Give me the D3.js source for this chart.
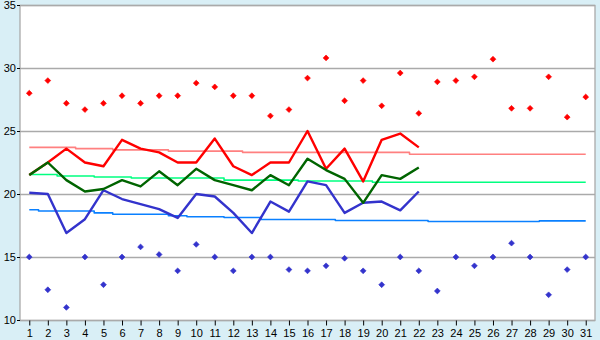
<!DOCTYPE html>
<html>
<head>
<meta charset="utf-8">
<script src="https://cdn.jsdelivr.net/npm/d3@7"></script>
<style>
  html, body { margin: 0; padding: 0; background: #d9eff6; }
  svg { display: block; font-family: "DejaVu Sans", sans-serif; }
  .tick text { font-size: 11px; fill: #000; }
  .tick line { stroke: #000; }
</style>
</head>
<body>
<svg id="grafico" width="600" height="340"></svg>
<script>
// temperaturas del mes: puntos de max/min diarios, lineas del dia y normales

var dias = d3.range(1, 32);
var ticksY = [10, 15, 20, 25, 30, 35];

var maxDia = [28.0, 29.0, 27.2, 26.7, 27.2, 27.8, 27.2, 27.8, 27.8, 28.8, 28.5, 27.8, 27.8, 26.2, 26.7, 29.2,
  30.8, 27.4, 29.0, 27.0, 29.6, 26.4, 28.9, 29.0, 29.3, 30.7, 26.8, 26.8, 29.3, 26.1, 27.7];
var minDia = [15.0, 12.4, 11.0, 15.0, 12.8, 15.0, 15.8, 15.2, 13.9, 16.0, 15.0, 13.9, 15.0, 15.0, 14.0, 13.9,
  14.3, 14.9, 13.9, 12.8, 15.0, 13.9, 12.3, 15.0, 14.3, 15.0, 16.1, 15.0, 12.0, 14.0, 15.0];

// series que solo llegan hasta el dia 22
var lineaRoja = [21.5, 22.5, 23.6, 22.5, 22.2, 24.3, 23.6, 23.3, 22.5, 22.5, 24.4, 22.2, 21.5, 22.5, 22.5, 25.0,
  22.0, 23.6, 21.0, 24.3, 24.8, 23.7];
var lineaVerde = [21.5, 22.5, 21.1, 20.2, 20.4, 21.1, 20.6, 21.8, 20.7, 22.0, 21.1, 20.7, 20.3, 21.5, 20.7, 22.8,
  21.9, 21.2, 19.3, 21.5, 21.2, 22.1];
var lineaAzul = [20.1, 20.0, 16.9, 18.0, 20.3, 19.6, 19.2, 18.8, 18.1, 20.0, 19.8, 18.5, 16.9, 19.4, 18.6, 21.0,
  20.7, 18.5, 19.3, 19.4, 18.7, 20.2];

// normales, casi planas
var normalMax = [23.7, 23.7, 23.7, 23.6, 23.6, 23.5, 23.5, 23.5, 23.4, 23.4, 23.4, 23.4, 23.3, 23.3, 23.3, 23.3,
  23.3, 23.3, 23.3, 23.3, 23.3, 23.15, 23.15, 23.15, 23.15, 23.15, 23.15, 23.15, 23.15, 23.15, 23.15];
var normalMed = [21.55, 21.55, 21.43, 21.43, 21.35, 21.35, 21.27, 21.27, 21.27, 21.27, 21.27, 21.1, 21.1, 21.1,
  21.1, 21.03, 21.03, 21.03, 21.03, 20.93, 20.93, 20.93, 20.93, 20.93, 20.93, 20.93, 20.93, 20.93, 20.93, 20.93, 20.93];
var normalMin = [18.75, 18.65, 18.65, 18.65, 18.5, 18.39, 18.39, 18.39, 18.27, 18.19, 18.19, 18.13, 18.13, 17.98,
  17.98, 17.98, 17.98, 17.9, 17.9, 17.9, 17.9, 17.9, 17.82, 17.82, 17.82, 17.82, 17.82, 17.82, 17.87, 17.87, 17.87];

var margen = { top: 5, right: 5, bottom: 20, left: 20 };
var ancho = 600, alto = 340;

var svg = d3.select("#grafico");

var x = d3.scaleLinear().domain([0.5, 31.5]).range([margen.left, ancho - margen.right]);
var y = d3.scaleLinear().domain([10, 35]).range([alto - margen.bottom, margen.top]);

// fondo blanco del area del grafico
svg.append("rect")
  .attr("x", x(0.5)).attr("y", y(35))
  .attr("width", x(31.5) - x(0.5)).attr("height", y(10) - y(35))
  .attr("fill", "#fff");

// lineas de la grilla
svg.append("g").selectAll("line").data(ticksY).enter().append("line")
  .attr("x1", x(0.5)).attr("x2", x(31.5))
  .attr("y1", function (d) { return y(d) + 0.5; })
  .attr("y2", function (d) { return y(d) + 0.5; })
  .attr("stroke", "#aaa").attr("stroke-width", 1.3);

svg.append("rect")
  .attr("x", x(0.5)).attr("y", y(35) + 0.5)
  .attr("width", x(31.5) - x(0.5)).attr("height", y(10) - y(35))
  .attr("fill", "none").attr("stroke", "#aaa").attr("stroke-width", 1.3);

// ejes
var ejeX = svg.append("g")
  .attr("transform", "translate(0," + (y(10) + 0.5) + ")")
  .call(d3.axisBottom(x).tickValues(dias).tickSize(5).tickPadding(4).tickFormat(d3.format("d")));
ejeX.select(".domain").remove();

var ejeY = svg.append("g")
  .attr("transform", "translate(" + x(0.5) + ",0)")
  .call(d3.axisLeft(y).tickValues(ticksY).tickSize(3).tickPadding(1));
ejeY.select(".domain").remove();
ejeY.selectAll(".tick line").attr("stroke", "#888");

function linea(curva) {
  return d3.line()
    .x(function (d, i) { return x(dias[i]); })
    .y(function (d) { return y(d); })
    .curve(curva || d3.curveLinear);
}

function trazar(valores, color, grosor, curva) {
  svg.append("path")
    .datum(valores)
    .attr("d", linea(curva))
    .attr("fill", "none")
    .attr("stroke", color)
    .attr("stroke-width", grosor)
    .attr("stroke-linejoin", "round");
}

trazar(normalMax, "#ff8080", 1.6, d3.curveStep);
trazar(normalMed, "#00ff80", 1.6, d3.curveStep);
trazar(normalMin, "#0a80ff", 1.6, d3.curveStep);

trazar(lineaAzul, "#3333cc", 2.4);
trazar(lineaRoja, "#ff0000", 2.4);
trazar(lineaVerde, "#006400", 2.4);

// marcador: cuadrado girado 45 grados, queda como un rombo chato
var rombo = d3.symbol().type(d3.symbolSquare).size(17);

function puntos(valores, color) {
  svg.append("g").selectAll("path").data(valores).enter().append("path")
    .attr("d", rombo)
    .attr("transform", function (d, i) { return "translate(" + x(dias[i]) + "," + y(d) + ") rotate(45)"; })
    .attr("fill", color)
    .attr("stroke", color)
    .attr("stroke-width", 0.6)
    .attr("stroke-linejoin", "round");
}

puntos(maxDia, "#ff0000");
puntos(minDia, "#3333cc");
</script>
</body>
</html>
